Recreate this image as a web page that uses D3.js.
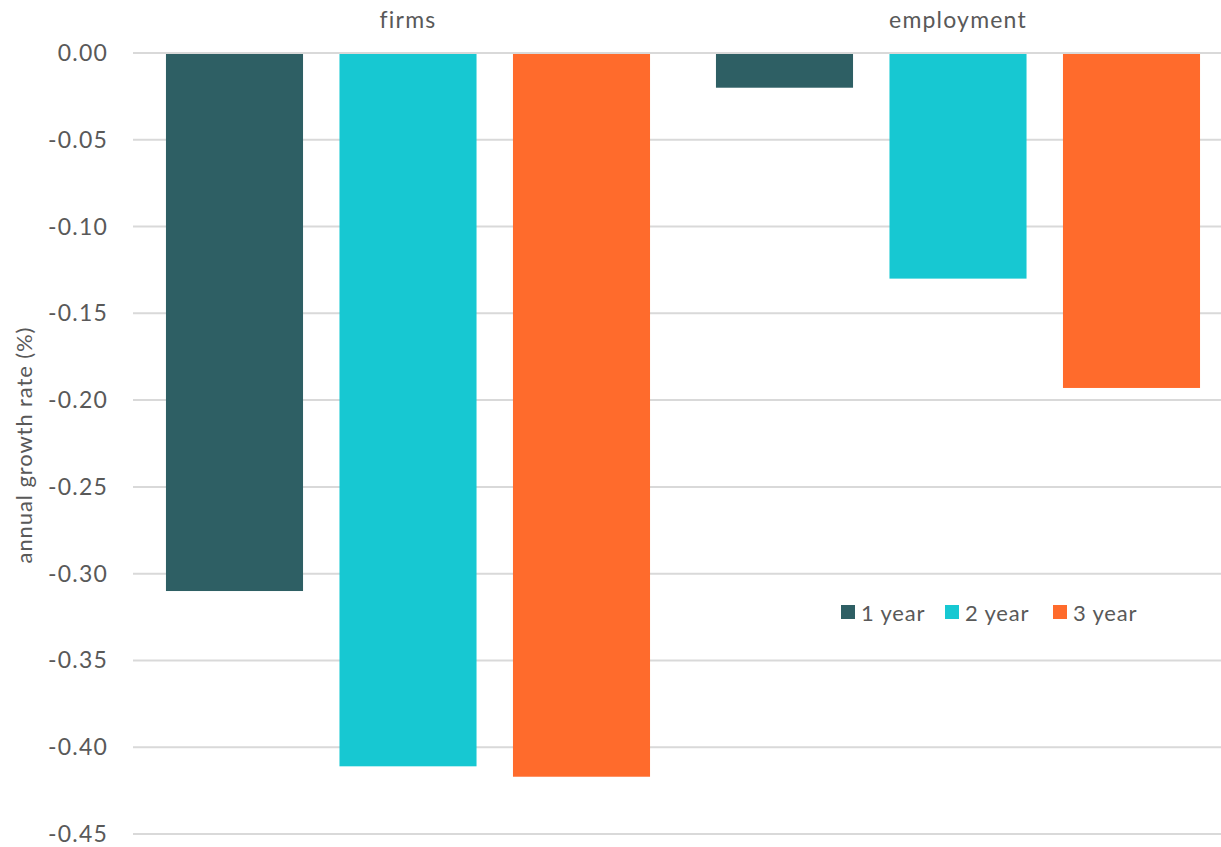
<!DOCTYPE html>
<html>
<head>
<meta charset="utf-8">
<script src="https://cdn.jsdelivr.net/npm/d3@7"></script>
<style>
  body { margin: 0; background: #fff; }
  text { font-family: Lato, "Open Sans", sans-serif; fill: #595959; }
</style>
</head>
<body>
<div id="chart"></div>
<script>
const categories = ["firms", "employment"];
const seriesNames = ["1 year", "2 year", "3 year"];
const values = [
  [-0.310, -0.411, -0.417],  // firms
  [-0.020, -0.130, -0.193]   // employment
];
const yTicks = [0, -0.05, -0.10, -0.15, -0.20, -0.25, -0.30, -0.35, -0.40, -0.45];
const colors = ["#2e5f64", "#17c8d2", "#ff6b2c"];

const width = 1221, height = 847;
const margin = { top: 53, left: 133, bottom: 13 };

const svg = d3.select("#chart")
  .append("svg")
  .attr("width", width)
  .attr("height", height);

const y = d3.scaleLinear()
  .domain([0, -0.45])
  .range([margin.top, height - margin.bottom]);

const x0 = d3.scaleBand()
  .domain(categories)
  .range([margin.left, margin.left + 1100]);

const x1 = d3.scaleBand()
  .domain(seriesNames)
  .range([0, x0.bandwidth()])
  .paddingInner(0.21)
  .paddingOuter(0.19);

// gridlines
svg.append("g")
  .selectAll("line")
  .data(yTicks)
  .enter()
  .append("line")
  .attr("x1", margin.left)
  .attr("x2", width)
  .attr("y1", (d) => y(d))
  .attr("y2", (d) => y(d))
  .attr("stroke", "#d9d9d9")
  .attr("stroke-width", 2);

// y tick labels
svg.append("g")
  .selectAll("text")
  .data(yTicks)
  .enter()
  .append("text")
  .attr("x", 108)
  .attr("y", (d) => y(d))
  .attr("dy", "0.35em")
  .attr("text-anchor", "end")
  .attr("font-size", "23px")
  .attr("letter-spacing", "1.2px")
  .text((d) => d3.format(".2f")(d).replace("−", "-"));

// bars
const groups = svg.append("g")
  .selectAll("g")
  .data(categories)
  .enter()
  .append("g")
  .attr("transform", (d) => "translate(" + x0(d) + ",0)");

groups.selectAll("rect")
  .data((d, i) => seriesNames.map((s, j) => ({ s: s, v: values[i][j], j: j })))
  .enter()
  .append("rect")
  .attr("x", (d) => x1(d.s))
  .attr("width", x1.bandwidth())
  .attr("y", y(0) + 1)
  .attr("height", (d) => y(d.v) - y(0) - 1)
  .attr("fill", (d) => colors[d.j]);

// category labels at top
svg.append("g")
  .selectAll("text")
  .data(categories)
  .enter()
  .append("text")
  .attr("x", (d) => x0(d) + x0.bandwidth() / 2)
  .attr("y", 28)
  .attr("text-anchor", "middle")
  .attr("font-size", "23px")
  .attr("letter-spacing", "1.2px")
  .text((d) => d);

// y axis title
svg.append("text")
  .attr("transform", "translate(32,445) rotate(-90)")
  .attr("text-anchor", "middle")
  .attr("font-size", "22px")
  .attr("letter-spacing", "0.9px")
  .text("annual growth rate (%)");

// legend
const legendX = [841, 945, 1053];
const legend = svg.append("g")
  .selectAll("g")
  .data(seriesNames)
  .enter()
  .append("g")
  .attr("transform", (d, i) => "translate(" + legendX[i] + ",605)");

legend.append("rect")
  .attr("width", 14)
  .attr("height", 14)
  .attr("fill", (d, i) => colors[i]);

legend.append("text")
  .attr("x", 20)
  .attr("y", 16)
  .attr("font-size", "22px")
  .attr("letter-spacing", "0.8px")
  .text((d) => d);
</script>
</body>
</html>
